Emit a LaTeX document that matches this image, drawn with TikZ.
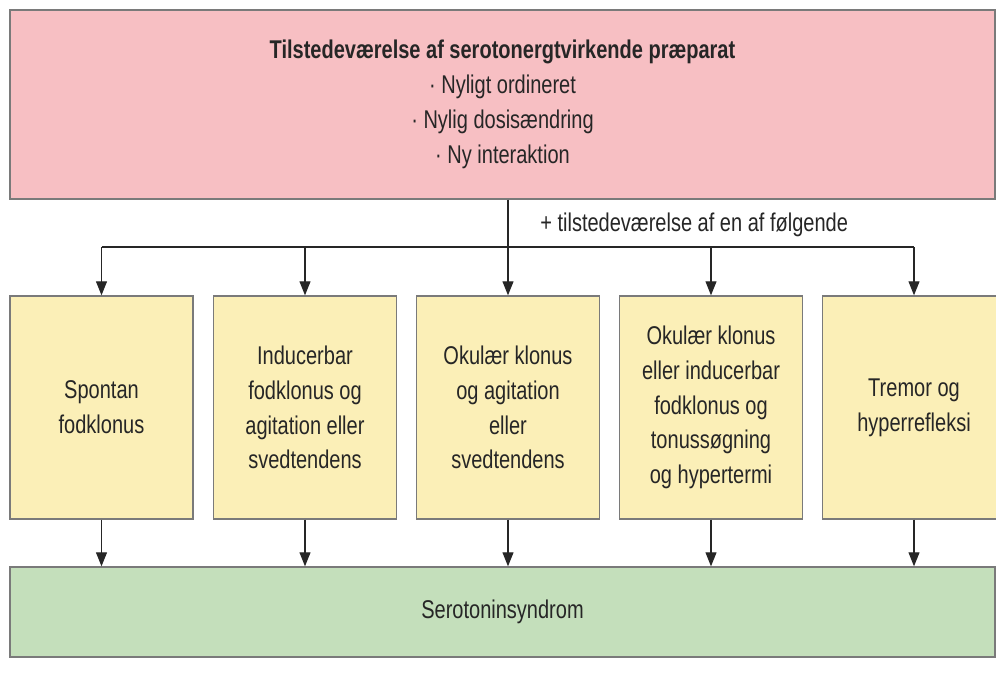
\documentclass[tikz,border=0pt]{standalone}
\usepackage{fontspec}
\setmainfont[FakeStretch=0.78]{Liberation Sans}
\usetikzlibrary{arrows.meta,positioning}
\definecolor{pinkbox}{HTML}{F7BFC3}
\definecolor{yellowbox}{HTML}{FBEFB7}
\definecolor{greenbox}{HTML}{C4DFBB}
\definecolor{edgegray}{HTML}{7A7A7A}
\definecolor{txt}{HTML}{262626}
\tikzset{
 box/.style={draw=edgegray,line width=0.8pt,text=txt,align=center,
   font=\fontsize{14.6}{19.8}\selectfont,inner sep=0pt},
 symptom/.style={box,fill=yellowbox,minimum width=3.66cm,minimum height=4.46cm},
 link/.style={draw=black!85,line width=0.6pt}
}
\begin{document}
\begin{tikzpicture}[>={Triangle[length=0.28cm,width=0.22cm]}]
 \useasboundingbox[fill=white] (0,0) rectangle (19.92,13.7);
 % top box
 \node[box,fill=pinkbox,minimum width=19.7cm,minimum height=3.78cm] (pre) at (10.05,11.61)
 {\textbf{Tilstedeværelse af serotonergtvirkende præparat}\\
  · Nyligt ordineret\\ · Nylig dosisændring\\ · Ny interaktion};
 % symptom boxes
 \node[symptom] (s1) at (2.03,5.55) {Spontan\\fodklonus};
 \node[symptom] (s2) at (6.10,5.55) {Inducerbar\\fodklonus og\\agitation eller\\svedtendens};
 \node[symptom] (s3) at (10.16,5.55) {Okulær klonus\\og agitation\\eller\\svedtendens};
 \node[symptom] (s4) at (14.22,5.55) {Okulær klonus\\eller inducerbar\\fodklonus og\\tonussøgning\\og hypertermi};
 \node[symptom] (s5) at (18.28,5.55) {Tremor og\\hyperrefleksi};
 % result
 \node[box,fill=greenbox,minimum width=19.7cm,minimum height=1.8cm] (syn) at (10.05,1.46)
 {Serotoninsyndrom};
 % bus
 \coordinate (bus) at (0,8.76);
 \node[anchor=west,text=txt,font=\fontsize{14.6}{16}\selectfont,inner sep=0pt] (cond) at (10.8,9.2)
 {+ tilstedeværelse af en af følgende};
 \draw[link] (s1 |- bus) -- (s5 |- bus);
 \draw[link,->] (pre.south -| s3) -- (s3.north);
 \foreach \i in {1,2,4,5}
  \draw[link,->] (s\i |- bus) -- (s\i.north);
 \foreach \i in {1,...,5}
  \draw[link,->] (s\i.south) -- (s\i |- syn.north);
\end{tikzpicture}
\end{document}
